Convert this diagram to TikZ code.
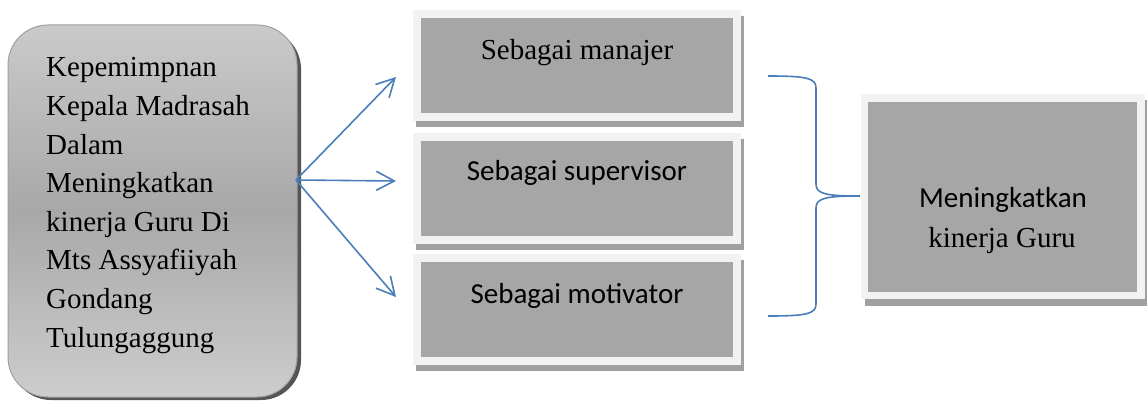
\documentclass[tikz,border=0pt]{standalone}
\usepackage{fontspec}
\setmainfont{Liberation Serif}
\newfontfamily\calfont{Carlito}
\usetikzlibrary{arrows.meta}
\definecolor{arrblue}{HTML}{4A7EBB}
\definecolor{boxgray}{HTML}{A6A6A6}
\definecolor{boxedge}{HTML}{F2F2F2}
\definecolor{shadgray}{HTML}{A0A0A0}
\definecolor{lighttop}{HTML}{CACACA}
\definecolor{leftmid}{HTML}{A8A8A8}
\definecolor{darkshad}{HTML}{555555}
\tikzset{
  x=1pt, y=-1pt,
  txt/.style={inner sep=0pt, font=\fontsize{29}{38.6}\selectfont},
  caltxt/.style={txt, font=\fontsize{29}{38.6}\selectfont\calfont},
  arr/.style={draw=arrblue, line width=1.6pt, -{Straight Barb[length=18pt,width=19pt,line width=1.6pt]}},
  brace/.style={draw=arrblue, line width=1.6pt},
}
\begin{document}
\begin{tikzpicture}
\useasboundingbox (0,0) rectangle (1147,401);
% left box
\fill[darkshad, rounded corners=40pt] (11,29) rectangle (301,400);
\path[rounded corners=40pt, draw=shadgray, line width=1pt, top color=lighttop, bottom color=lighttop!95!white, middle color=leftmid]
  (8,25) rectangle (297,397);
\node[inner sep=0pt, minimum width=289pt, minimum height=372pt] (src) at (152.5,211) {};
\node[txt, align=left, anchor=base west] (srctxt) at (46,347)
  {Kepemimpnan\\Kepala Madrasah\\Dalam\\Meningkatkan\\kinerja Guru Di\\Mts Assyafiiyah\\Gondang\\Tulungaggung};
% middle boxes
\foreach \t in {10,133,254}{
  \fill[shadgray] (416,\t+6) rectangle (744,\t+117);
  \fill[boxedge] (413,\t) rectangle (741,\t+111);
  \fill[boxgray] (421,\t+8) rectangle (733,\t+103);
}
\node[inner sep=0pt, minimum width=328pt, minimum height=111pt] (m1) at (577,65.5) {};
\node[inner sep=0pt, minimum width=328pt, minimum height=111pt] (m2) at (577,188.5) {};
\node[inner sep=0pt, minimum width=328pt, minimum height=111pt] (m3) at (577,309.5) {};
\node[txt, anchor=base] (t1) at (577,60) {Sebagai manajer};
\node[caltxt, anchor=base] (t2) at (577,180) {Sebagai supervisor};
\node[caltxt, anchor=base] (t3) at (577,303) {Sebagai motivator};
% right box
\fill[shadgray] (865,100) rectangle (1147,306);
\fill[boxedge] (861,94) rectangle (1145,299);
\fill[boxgray] (868,102) rectangle (1137,292);
\node[inner sep=0pt, minimum width=284pt, minimum height=205pt] (res) at (1003,196.5) {};
\node[caltxt, anchor=base] (r1) at (1003,207) {Meningkatkan};
\node[txt, anchor=base] (r2) at (1002,247) {kinerja Guru};
% arrows
\coordinate (s) at (296,180);
\coordinate (e1) at (396,77);
\coordinate (e2) at (396,181);
\coordinate (e3) at (396,297);
\draw[arr] (s) -- (e1);
\draw[arr] (s) -- (e2);
\draw[arr] (s) -- (e3);
% brace
\coordinate (bt) at (768,76);
\coordinate (bm) at (860,196);
\coordinate (bb) at (768,316);
\draw[brace] (bt) .. controls (806,76) and (816,78) .. (816,88) -- (816,184)
  .. controls (816,194) and (826,196) .. (bm)
  .. controls (826,196) and (816,198) .. (816,208) -- (816,304)
  .. controls (816,314) and (806,316) .. (bb);
\end{tikzpicture}
\end{document}
